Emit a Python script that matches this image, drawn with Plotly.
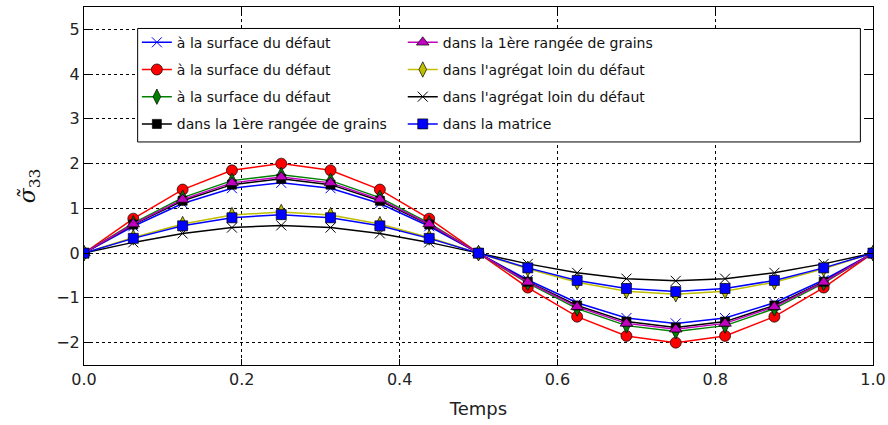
import plotly.graph_objects as go

temps = [0.0, 0.0625, 0.125, 0.1875, 0.25, 0.3125, 0.375, 0.4375, 0.5,
         0.5625, 0.625, 0.6875, 0.75, 0.8125, 0.875, 0.9375, 1.0]

surf_x = [0, 0.60, 1.11, 1.45, 1.57, 1.45, 1.11, 0.60, 0, -0.60, -1.11, -1.45, -1.57, -1.45, -1.11, -0.60, 0]
surf_o = [0, 0.77, 1.42, 1.85, 2.00, 1.85, 1.42, 0.77, 0, -0.77, -1.42, -1.85, -2.00, -1.85, -1.42, -0.77, 0]
surf_d = [0, 0.67, 1.24, 1.62, 1.75, 1.62, 1.24, 0.67, 0, -0.67, -1.24, -1.62, -1.75, -1.62, -1.24, -0.67, 0]
rang_s = [0, 0.64, 1.17, 1.53, 1.66, 1.53, 1.17, 0.64, 0, -0.64, -1.17, -1.53, -1.66, -1.53, -1.17, -0.64, 0]
rang_t = [0, 0.65, 1.20, 1.57, 1.70, 1.57, 1.20, 0.65, 0, -0.65, -1.20, -1.57, -1.70, -1.57, -1.20, -0.65, 0]
agr_d = [0, 0.35, 0.65, 0.85, 0.92, 0.85, 0.65, 0.35, 0, -0.35, -0.65, -0.85, -0.92, -0.85, -0.65, -0.35, 0]
agr_x = [0, 0.24, 0.44, 0.57, 0.62, 0.57, 0.44, 0.24, 0, -0.24, -0.44, -0.57, -0.62, -0.57, -0.44, -0.24, 0]
matrice = [0, 0.33, 0.61, 0.79, 0.86, 0.79, 0.61, 0.33, 0, -0.33, -0.61, -0.79, -0.86, -0.79, -0.61, -0.33, 0]

series = [
    ("à la surface du défaut", surf_x, "#0000ff", "x-thin", 10, "legend"),
    ("à la surface du défaut", surf_o, "#ff0000", "circle", 11, "legend"),
    ("à la surface du défaut", surf_d, "#008000", "diamond-tall", 11, "legend"),
    ("dans la 1ère rangée de grains", rang_s, "#000000", "square", 9, "legend"),
    ("dans la 1ère rangée de grains", rang_t, "#bf00bf", "triangle-up", 11, "legend2"),
    ("dans l'agrégat loin du défaut", agr_d, "#bfbf00", "diamond-tall", 11, "legend2"),
    ("dans l'agrégat loin du défaut", agr_x, "#000000", "x-thin", 10, "legend2"),
    ("dans la matrice", matrice, "#0000ff", "square", 10, "legend2"),
]

fig = go.Figure()
for i, (name, vals, color, sym, size, leg) in enumerate(series):
    if sym == "x-thin":
        mline = dict(color=color, width=1)
    else:
        mline = dict(color="black", width=0.7)
    fig.add_trace(go.Scatter(
        x=temps, y=vals, mode="lines+markers", name=name,
        line=dict(color=color, width=1.5),
        marker=dict(symbol=sym, size=size, color=color, line=mline),
        legend=leg, legendgroup="g%d" % i,
    ))

font = "DejaVu Sans, Verdana, sans-serif"
axis_common = dict(
    showline=True, linecolor="black", linewidth=1, mirror="allticks",
    ticks="inside", ticklen=6, tickcolor="black",
    showgrid=True, gridcolor="black", gridwidth=1, griddash="dot",
    zeroline=False, tickfont=dict(size=16, color="#222"), automargin=False,
)

leg_common = dict(
    yanchor="top", xanchor="left", bgcolor="rgba(0,0,0,0)", borderwidth=0,
    font=dict(size=14, color="#111", family=font), tracegroupgap=6,
    itemwidth=30,
)

fig.update_layout(
    width=888, height=425,
    margin=dict(l=84, r=15, t=7, b=60),
    paper_bgcolor="white", plot_bgcolor="white",
    font=dict(family=font, color="#222"),
    xaxis=dict(range=[0, 1], dtick=0.2, tick0=0, tickformat=".1f",
               title=dict(text="Temps", font=dict(size=18), standoff=14), **axis_common),
    yaxis=dict(range=[-2.5, 5.5], dtick=1, tick0=0,
               title=dict(text="<i>σ\u0303</i><sub>33</sub>",
                          font=dict(size=22, family="DejaVu Serif, serif", color="#111"),
                          standoff=14), **axis_common),
    legend=dict(x=0.067, y=0.945, **leg_common),
    legend2=dict(x=0.404, y=0.945, **leg_common),
    shapes=[dict(type="rect", xref="paper", yref="paper",
                 x0=0.068, x1=0.984, y0=0.623, y1=0.940,
                 fillcolor="white", line=dict(color="black", width=1), layer="above")],
)

fig.write_html("out.html", config={"displayModeBar": False},
               post_script="document.body.style.margin='0';")
